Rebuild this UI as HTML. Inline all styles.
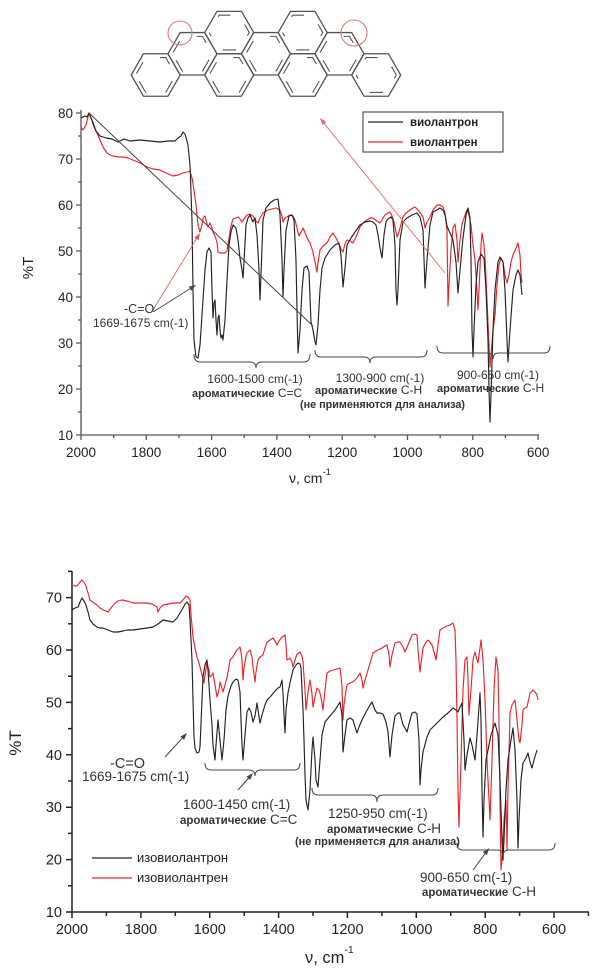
<!DOCTYPE html>
<html><head><meta charset="utf-8"><style>
html,body{margin:0;padding:0;background:#fff;}
svg{display:block;font-family:"Liberation Sans",sans-serif;}
</style></head><body>
<svg width="602" height="971" viewBox="0 0 602 971" xmlns="http://www.w3.org/2000/svg">
<rect width="602" height="971" fill="#fff"/>

<!-- Molecule -->
<g fill="none" stroke="#555" stroke-width="1.3" stroke-linejoin="round">
<g id="hexes">
<polygon transform="translate(155.7,75)" points="-24.5,0 -12.25,-21.22 12.25,-21.22 24.5,0 12.25,21.22 -12.25,21.22"/>
<polygon transform="translate(229.2,75)" points="-24.5,0 -12.25,-21.22 12.25,-21.22 24.5,0 12.25,21.22 -12.25,21.22"/>
<polygon transform="translate(302.7,75)" points="-24.5,0 -12.25,-21.22 12.25,-21.22 24.5,0 12.25,21.22 -12.25,21.22"/>
<polygon transform="translate(376.2,75)" points="-24.5,0 -12.25,-21.22 12.25,-21.22 24.5,0 12.25,21.22 -12.25,21.22"/>
<polygon transform="translate(192.45,53.78)" points="-24.5,0 -12.25,-21.22 12.25,-21.22 24.5,0 12.25,21.22 -12.25,21.22"/>
<polygon transform="translate(265.95,53.78)" points="-24.5,0 -12.25,-21.22 12.25,-21.22 24.5,0 12.25,21.22 -12.25,21.22"/>
<polygon transform="translate(339.45,53.78)" points="-24.5,0 -12.25,-21.22 12.25,-21.22 24.5,0 12.25,21.22 -12.25,21.22"/>
<polygon transform="translate(229.2,32.56)" points="-24.5,0 -12.25,-21.22 12.25,-21.22 24.5,0 12.25,21.22 -12.25,21.22"/>
<polygon transform="translate(302.7,32.56)" points="-24.5,0 -12.25,-21.22 12.25,-21.22 24.5,0 12.25,21.22 -12.25,21.22"/>
</g>
<!-- inner double-bond lines -->
<g stroke-width="1.1" stroke-dasharray="0 1.9 16.2 21.9">
<polygon transform="translate(155.7,75) scale(0.82)" points="-24.5,0 -12.25,-21.22 12.25,-21.22 24.5,0 12.25,21.22 -12.25,21.22" stroke-width="1.34"/>
<polygon transform="translate(192.45,53.78) scale(0.82)" points="-24.5,0 -12.25,-21.22 12.25,-21.22 24.5,0 12.25,21.22 -12.25,21.22" stroke-width="1.34"/>
<polygon transform="translate(229.2,75) scale(0.82)" points="-24.5,0 -12.25,-21.22 12.25,-21.22 24.5,0 12.25,21.22 -12.25,21.22" stroke-width="1.34"/>
<polygon transform="translate(265.95,53.78) scale(0.82)" points="-24.5,0 -12.25,-21.22 12.25,-21.22 24.5,0 12.25,21.22 -12.25,21.22" stroke-width="1.34"/>
<polygon transform="translate(302.7,75) scale(0.82)" points="-24.5,0 -12.25,-21.22 12.25,-21.22 24.5,0 12.25,21.22 -12.25,21.22" stroke-width="1.34"/>
<polygon transform="translate(339.45,53.78) scale(0.82)" points="-24.5,0 -12.25,-21.22 12.25,-21.22 24.5,0 12.25,21.22 -12.25,21.22" stroke-width="1.34"/>
</g>
<g stroke-width="1.1" stroke-dasharray="0 1.9 16.2 21.9" stroke-dashoffset="-20.09">
<polygon transform="translate(229.2,32.56) scale(0.82)" points="-24.5,0 -12.25,-21.22 12.25,-21.22 24.5,0 12.25,21.22 -12.25,21.22" stroke-width="1.34"/>
<polygon transform="translate(302.7,32.56) scale(0.82)" points="-24.5,0 -12.25,-21.22 12.25,-21.22 24.5,0 12.25,21.22 -12.25,21.22" stroke-width="1.34"/>
<polygon transform="translate(376.2,75) scale(0.82)" points="-24.5,0 -12.25,-21.22 12.25,-21.22 24.5,0 12.25,21.22 -12.25,21.22" stroke-width="1.34"/>
</g>
</g>
<circle cx="180" cy="33" r="12" fill="none" stroke="#e07a7a" stroke-width="1.1"/>
<circle cx="354" cy="33" r="13" fill="none" stroke="#e07a7a" stroke-width="1.1"/>

<!-- ================= TOP CHART ================= -->
<g stroke="#555" stroke-width="1.3" fill="none">
<line x1="81" y1="110" x2="81" y2="435.5"/>
<line x1="76" y1="435" x2="539" y2="435"/>
<path d="M76,113H81M76,159H81M76,205H81M76,251H81M76,297H81M76,343H81M76,389H81
M78,136H81M78,182H81M78,228H81M78,274H81M78,320H81M78,366H81M78,412H81
M81,435V440M146.3,435V440M211.6,435V440M276.9,435V440M342.2,435V440M407.5,435V440M472.8,435V440M538.1,435V440
M113.6,435V438M179,435V438M244.2,435V438M309.5,435V438M374.9,435V438M440.2,435V438M505.4,435V438"/>
</g>
<g font-size="13.5" fill="#222" text-anchor="end">
<text x="73" y="118">80</text><text x="73" y="164">70</text><text x="73" y="210">60</text>
<text x="73" y="256">50</text><text x="73" y="302">40</text><text x="73" y="348">30</text>
<text x="73" y="394">20</text><text x="73" y="440">10</text>
</g>
<g font-size="13.5" fill="#222" text-anchor="middle">
<text x="81" y="457">2000</text><text x="146.3" y="457">1800</text><text x="211.6" y="457">1600</text>
<text x="276.9" y="457">1400</text><text x="342.2" y="457">1200</text><text x="407.5" y="457">1000</text>
<text x="472.8" y="457">800</text><text x="538.1" y="457">600</text>
</g>
<text x="0" y="0" font-size="15" fill="#222" text-anchor="middle" transform="translate(33,268) rotate(-90)">%T</text>
<text x="289" y="483" font-size="14" fill="#222">ν, cm<tspan font-size="9.5" dy="-8">-1</tspan></text>

<!-- top spectra -->
<polyline fill="none" stroke="#e8262a" stroke-width="1.15" stroke-linejoin="round" points="81,127 83,130 86,125 89,113 91,118 94,127 97,133 100,140 103,147 107,153 110,155 113,156 118,157 123,157 128,158 133,160 140,163 147,167 153,169 160,170 166,173 173,176 178,175 183,173 187,172 190,171 192,178 194,190 196,205 198,225 200,232 202,225 203,218 205,216 207,224 208,227 210,223 212,228 213,232 215,236 217,242 218,252 220,253 223,253 225,253 227,251 229,238 231,226 233,219 236,218 238,217 240,219 242,222 244,219 247,215 250,214 253,216 256,221 258,223 260,218 263,213 266,211 268,210 272,209 276,208 280,210 282,216 283,222 285,218 287,217 290,215 293,216 295,220 297,228 299,236 301,232 303,228 306,235 308,240 310,243 313,252 315,262 317,272 318,263 320,250 323,246 327,243 330,237 333,233 336,238 339,244 341,249 343,252 345,244 347,240 350,241 353,243 356,237 360,227 364,222 367,220 370,218 373,218 377,221 380,223 383,218 385,215 388,213 390,212 392,216 394,222 396,232 397,237 399,232 401,224 403,217 406,213 410,210 413,208 415,207 418,210 421,214 423,217 424,222 425,228 427,222 430,217 433,210 437,205 440,205 443,207 445,213 447,230 448,306 449,285 451,250 453,228 455,224 457,240 458,262 460,240 462,224 464,218 467,210 469,215 471,225 473,245 475,260 477,290 478,310 479,290 481,245 482,233 484,245 485,257 487,300 489,345 490,367 491,355 493,330 495,315 497,285 499,265 501,258 503,262 505,275 507,283 509,275 511,262 513,255 516,248 518,243 520,255 521,275 522,283"/>
<polyline fill="none" stroke="#222" stroke-width="1.15" stroke-linejoin="round" points="81,118 85,116 87,117 89,113 92,120 96,131 100,136 106,138 112,139 118,142 124,139 130,141 140,140 150,141 160,142 168,141 175,141 178,138 181,136 183,132 185,134 188,145 190,165 192,220 193,290 194,340 196,357 198,358 200,345 203,300 205,270 207,252 209,248 211,252 212,290 213,318 214,303 215,300 216,320 217,335 218,318 219,315 220,330 221,338 222,335 223,340 225,320 227,280 229,245 231,232 233,225 236,228 238,240 240,258 242,270 243,278 244,262 246,225 248,218 250,215 253,222 255,218 257,235 259,270 260,300 261,275 263,220 266,208 270,203 274,200 278,199 280,215 282,260 283,297 284,270 286,230 289,216 292,215 294,220 296,260 297,310 298,353 300,330 302,290 304,268 307,266 309,272 311,322 313,330 315,342 316,345 318,325 320,290 322,268 325,258 330,250 335,245 339,243 341,255 343,287 345,268 347,245 351,238 355,232 360,225 365,222 370,221 373,222 376,225 378,235 380,248 382,258 384,235 386,222 388,219 391,217 393,220 395,245 396,290 397,305 398,290 400,240 403,222 407,218 412,215 417,213 420,217 423,230 425,288 427,260 430,225 433,212 437,210 440,208 443,210 445,215 447,226 450,233 453,240 456,262 458,293 460,270 463,238 466,215 468,208 470,218 471,260 472,330 473,357 474,330 476,285 478,262 481,254 484,258 486,290 488,340 489,390 490,422 491,395 493,330 495,290 498,262 500,257 503,262 505,290 507,340 508,362 510,330 513,290 516,275 518,270 520,275 521,285 522,295"/>

<!-- top annotations -->
<line x1="89" y1="113" x2="313" y2="326" stroke="#444" stroke-width="1"/>
<line x1="153" y1="312" x2="192" y2="287.5" stroke="#444" stroke-width="0.9"/>
<polygon points="196,285 191.4,290.8 188.8,286.6" fill="#444"/>
<line x1="153" y1="310" x2="197.5" y2="237" stroke="#e05858" stroke-width="0.8"/>
<polygon points="200,233 198.5,240.3 194.3,237.7" fill="#e05858"/>
<line x1="445" y1="273" x2="323" y2="122" stroke="#e06a6a" stroke-width="0.9"/>
<polygon points="320,118 326.3,121.9 322.5,125.1" fill="#e06a6a"/>

<g fill="none" stroke="#444" stroke-width="1">
<path d="M194,354 Q194,362 200,362 L250,362 Q256,362 256,368 Q256,362 262,362 L304,362 Q310,362 310,354"/>
<path d="M315,350 Q315,357 321,357 L364,357 Q370,357 370,363 Q370,357 376,357 L421,357 Q427,357 427,350"/>
<path d="M437,346 Q437,353 443,353 L487,353 Q493,353 493,359 Q493,353 499,353 L544,353 Q550,353 550,346"/>
</g>

<g fill="#333" font-size="12">
<text x="124" y="313" font-size="12.5">-C=O</text>
<text x="93" y="327">1669-1675 cm(-1)</text>
<text x="255" y="383" text-anchor="middle">1600-1500 cm(-1)</text>
<text x="192" y="397"><tspan font-weight="bold" font-size="11">ароматические</tspan> C=C</text>
<text x="380" y="382" text-anchor="middle">1300-900 cm(-1)</text>
<text x="315" y="394"><tspan font-weight="bold" font-size="11">ароматические</tspan>  C-H</text>
<text x="300" y="408" font-weight="bold" font-size="10.8">(не применяются для анализа)</text>
<text x="498" y="379" text-anchor="middle">900-650 cm(-1)</text>
<text x="437" y="392"><tspan font-weight="bold" font-size="11">ароматические</tspan> C-H</text>
</g>

<!-- top legend -->
<rect x="363" y="112" width="140" height="40" fill="#fff" stroke="#333" stroke-width="1"/>
<line x1="368" y1="122" x2="403" y2="122" stroke="#222" stroke-width="1.2"/>
<line x1="368" y1="142" x2="403" y2="142" stroke="#e8262a" stroke-width="1.2"/>
<text x="410" y="126" font-size="11.5" font-weight="bold" fill="#222">виолантрон</text>
<text x="410" y="146" font-size="11.5" font-weight="bold" fill="#222">виолантрен</text>

<!-- ================= BOTTOM CHART ================= -->
<g stroke="#222" stroke-width="1.5" fill="none">
<line x1="72" y1="571" x2="72" y2="912.7"/>
<line x1="66" y1="912" x2="589" y2="912"/>
<path d="M66,597.6H72M66,650H72M66,702.4H72M66,754.8H72M66,807.2H72M66,859.6H72
M68,571.4H72M68,623.8H72M68,676.2H72M68,728.6H72M68,781H72M68,833.4H72M68,885.8H72
M72,912V918M140.9,912V918M209.7,912V918M278.6,912V918M347.4,912V918M416.3,912V918M485.2,912V918M554,912V918
M106.4,912V916M175.3,912V916M244.2,912V916M313,912V916M381.9,912V916M450.7,912V916M519.6,912V916M588.4,912V916"/>
</g>
<g font-size="14.5" fill="#222" text-anchor="end">
<text x="62" y="602.5">70</text><text x="62" y="655">60</text><text x="62" y="707.4">50</text>
<text x="62" y="759.8">40</text><text x="62" y="812.2">30</text><text x="62" y="864.6">20</text>
<text x="62" y="917">10</text>
</g>
<g font-size="14.5" fill="#222" text-anchor="middle">
<text x="72" y="934">2000</text><text x="140.9" y="934">1800</text><text x="209.7" y="934">1600</text>
<text x="278.6" y="934">1400</text><text x="347.4" y="934">1200</text><text x="416.3" y="934">1000</text>
<text x="485.2" y="934">800</text><text x="554" y="934">600</text>
</g>
<text x="0" y="0" font-size="17" fill="#222" text-anchor="middle" transform="translate(21,743) rotate(-90)">%T</text>
<text x="305" y="963" font-size="16.5" fill="#222">ν, cm<tspan font-size="10.5" dy="-10">-1</tspan></text>

<!-- bottom spectra -->
<polyline fill="none" stroke="#e8262a" stroke-width="1.15" stroke-linejoin="round" points="72,585 75,586 77,586 80,582 82,580 84,582 86,586 88,593 90,600 94,603 97,605 100,608 103,610 106,611 108,612 111,608 115,603 118,601 122,600 127,601 133,603 140,603 147,603 152,604 157,607 158,612 160,608 163,605 168,604 173,603 177,603 180,603 183,600 186,596 188,597 190,600 191,615 193,637 195,648 197,657 199,663 200,667 202,675 204,683 205,675 207,663 209,670 210,677 212,675 213,673 215,685 217,697 219,690 220,682 222,688 223,692 225,685 227,677 229,667 230,660 232,658 233,657 235,653 237,650 239,648 240,647 241,652 242,660 243,680 244,668 246,656 247,653 249,651 250,650 252,657 253,667 255,682 256,672 258,660 260,657 263,655 265,648 267,642 270,640 273,638 275,641 277,645 279,641 282,637 285,635 286,645 287,660 289,659 290,658 292,662 293,667 295,660 297,654 300,652 302,656 303,662 305,690 306,710 308,692 310,680 312,694 313,707 315,697 317,688 319,690 320,693 322,703 323,710 325,690 327,673 330,671 333,670 337,669 340,668 341,676 342,687 343,720 344,705 346,690 347,685 350,683 353,682 357,678 360,673 362,680 363,688 365,680 368,670 370,663 373,653 376,651 378,650 382,648 385,646 387,645 389,655 390,667 392,655 395,643 398,642 400,642 403,647 405,652 408,645 412,635 415,634 417,635 418,650 420,672 422,656 423,648 426,642 428,640 430,642 432,645 434,652 436,660 438,645 440,630 443,628 447,626 450,625 453,623 455,630 456,660 457,720 458,790 459,827 461,760 463,690 465,660 467,657 468,680 469,715 471,690 473,660 475,652 477,660 478,663 480,648 481,640 483,660 485,700 487,760 489,800 490,820 492,760 494,690 496,657 498,670 499,720 500,800 501,870 502,860 504,820 506,800 507,850 508,790 510,713 512,705 515,700 517,720 519,740 520,743 522,725 523,710 525,708 527,707 529,698 530,693 533,690 535,692 537,695 538,700"/>
<polyline fill="none" stroke="#222" stroke-width="1.15" stroke-linejoin="round" points="72,610 75,608 78,607 80,602 82,598 84,601 86,605 88,612 90,620 93,624 97,627 100,628 103,628 108,630 113,632 118,632 123,631 127,630 133,630 140,629 147,628 153,627 158,624 163,620 168,621 173,622 177,618 180,613 183,608 185,604 187,602 189,605 190,620 191,640 192,660 193,700 194,737 195,748 197,753 199,752 200,747 202,700 203,677 205,665 207,660 208,670 210,700 212,725 213,745 215,760 216,745 218,720 220,740 222,760 224,740 226,710 228,696 231,686 233,682 236,679 238,680 240,692 241,720 242,745 243,760 245,735 247,712 249,708 251,712 253,722 255,716 257,703 258,710 260,723 262,715 265,705 267,700 271,696 275,691 278,688 280,687 282,680 283,693 284,715 285,733 286,710 288,693 290,683 293,670 296,665 298,663 300,664 301,668 302,690 303,710 304,740 305,775 306,800 308,810 310,790 312,750 313,737 315,760 316,780 318,787 320,760 322,735 325,722 330,716 335,710 340,702 342,715 343,752 345,735 347,720 350,718 353,720 355,727 357,733 359,727 362,720 366,712 370,705 372,702 375,710 377,713 380,713 383,714 386,722 388,732 390,757 392,735 395,716 398,713 400,713 403,725 405,728 407,732 409,724 412,713 415,712 417,714 419,740 420,785 421,770 423,752 427,737 430,730 433,727 437,723 443,717 448,713 453,708 456,710 458,712 460,707 462,703 464,740 465,770 467,755 470,738 472,745 475,760 477,735 480,693 481,720 482,790 483,837 484,800 486,760 488,750 491,735 495,723 498,735 500,780 502,840 503,860 504,840 506,790 508,760 511,740 513,728 515,750 517,800 518,848 519,820 521,780 523,763 526,758 528,753 530,762 532,768 534,760 537,750"/>

<!-- bottom annotations -->
<g fill="none" stroke="#444" stroke-width="1">
<path d="M205,763 Q205,770 211,770 L249,770 Q255,770 255,776 Q255,770 261,770 L294,770 Q300,770 300,763"/>
<path d="M312,788 Q312,795 318,795 L371,795 Q377,795 377,802 Q377,795 383,795 L432,795 Q438,795 438,788"/>
<path d="M457,843 Q457,850 463,850 L497,850 Q503,850 503,856 Q503,850 509,850 L549,850 Q555,850 555,843"/>
<line x1="165" y1="757" x2="184" y2="736.3"/>
<line x1="238" y1="790" x2="250.5" y2="776"/>
<line x1="473" y1="870" x2="487" y2="851"/>
</g>
<g fill="#444">
<polygon points="187,733 184.1,739.9 180.4,736.5"/>
<polygon points="253,773 250.2,779.9 246.5,776.6"/>
<polygon points="489,848 486.9,855.2 482.9,852.2"/>
</g>

<g fill="#333" font-size="13.5">
<text x="110" y="768" font-size="14.5">-C=O</text>
<text x="82" y="781">1669-1675 cm(-1)</text>
<text x="183" y="809">1600-1450 cm(-1)</text>
<text x="180" y="824"><tspan font-weight="bold" font-size="11.5">ароматические</tspan> C=C</text>
<text x="328" y="818">1250-950 cm(-1)</text>
<text x="327" y="833"><tspan font-weight="bold" font-size="11.5">ароматические</tspan> C-H</text>
<text x="295" y="845" font-weight="bold" font-size="11">(не применяется для анализа)</text>
<text x="420" y="882">900-650 cm(-1)</text>
<text x="422" y="896"><tspan font-weight="bold" font-size="11.5">ароматические</tspan> C-H</text>
</g>

<!-- bottom legend -->
<line x1="92" y1="858" x2="132" y2="858" stroke="#222" stroke-width="1.2"/>
<line x1="92" y1="878" x2="132" y2="878" stroke="#e8262a" stroke-width="1.2"/>
<text x="137" y="862" font-size="13" fill="#222">изовиолантрон</text>
<text x="137" y="882" font-size="13" fill="#222">изовиолантрен</text>
</svg>
</body></html>
